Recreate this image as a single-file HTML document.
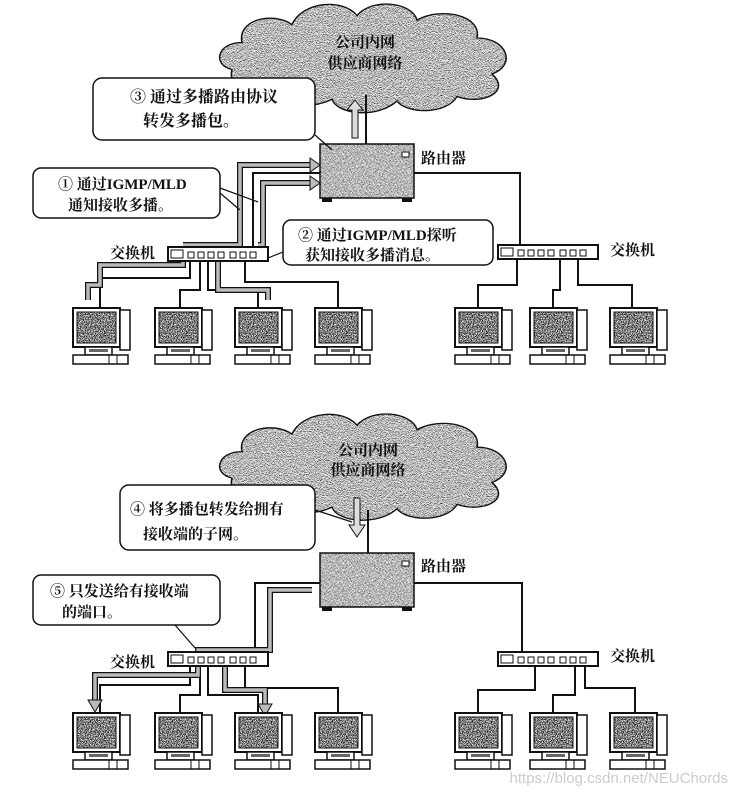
<!DOCTYPE html>
<html><head><meta charset="utf-8"><style>
body{margin:0;background:#fff;}
svg{display:block;}
text{font-family:"Liberation Serif","Noto Serif CJK SC","Noto Sans CJK SC",serif;font-weight:bold;fill:#111;}
</style></head><body>
<svg width="731" height="796" viewBox="0 0 731 796" xmlns="http://www.w3.org/2000/svg">
<defs>
<filter id="nz" x="0" y="0" width="100%" height="100%" color-interpolation-filters="sRGB">
<feTurbulence type="fractalNoise" baseFrequency="1.2" numOctaves="2" seed="3" result="t"/>
<feColorMatrix in="t" type="matrix" values="3 0 0 0 -1.0  3 0 0 0 -1.0  3 0 0 0 -1.0  0 0 0 0 1" result="g"/>
<feComposite in="g" in2="SourceGraphic" operator="in"/>
</filter>
<filter id="nz2" x="0" y="0" width="100%" height="100%" color-interpolation-filters="sRGB">
<feTurbulence type="fractalNoise" baseFrequency="1.0" numOctaves="2" seed="7" result="t"/>
<feColorMatrix in="t" type="matrix" values="2.6 0 0 0 -0.55  2.6 0 0 0 -0.55  2.6 0 0 0 -0.55  0 0 0 0 1" result="g"/>
<feComposite in="g" in2="SourceGraphic" operator="in"/>
</filter>
<g id="pc">
<rect x="0" y="0" width="47" height="39" fill="#fff" stroke="#111" stroke-width="2"/>
<rect x="4" y="4" width="39" height="31" fill="#888" filter="url(#nz)"/>
<rect x="4" y="4" width="39" height="31" fill="none" stroke="#111" stroke-width="1"/>
<rect x="47" y="2" width="10" height="40" fill="#fff" stroke="#111" stroke-width="1.5"/>
<rect x="12" y="39" width="27" height="8" fill="#fff" stroke="#111" stroke-width="1.5"/>
<rect x="16" y="41" width="19" height="3" fill="#666"/>
<rect x="0" y="47" width="55" height="9" fill="#fff" stroke="#111" stroke-width="1.5"/>
<line x1="36" y1="47" x2="36" y2="56" stroke="#111"/><line x1="44" y1="47" x2="44" y2="56" stroke="#111"/>
</g>
<g id="sw">
<rect x="0" y="0" width="100" height="14" fill="#fff" stroke="#111" stroke-width="2"/>
<rect x="3" y="3" width="12" height="8" fill="#fff" stroke="#111"/>
<g fill="#fff" stroke="#111"><rect x="20" y="5" width="6" height="6"/><rect x="30" y="5" width="6" height="6"/><rect x="40" y="5" width="6" height="6"/><rect x="50" y="5" width="6" height="6"/><rect x="62" y="5" width="6" height="6"/><rect x="72" y="5" width="6" height="6"/><rect x="82" y="5" width="6" height="6"/></g>
</g>
<g id="rt">
<rect x="0" y="0" width="94" height="54" fill="#999" filter="url(#nz2)"/>
<rect x="0" y="0" width="94" height="54" fill="none" stroke="#111" stroke-width="1.5"/>
<rect x="82" y="8" width="7" height="5" fill="#fff" stroke="#111"/>
<rect x="2" y="54" width="10" height="4" fill="#111"/><rect x="82" y="54" width="10" height="4" fill="#111"/>
</g>
<path id="cp" d="M0,75 C-20,70 -15,45 10,45 C5,20 40,10 60,25 C70,0 110,-5 125,15 C140,-5 180,0 185,20 C210,5 250,15 245,40 C275,40 285,70 260,80 C280,100 250,115 225,105 C215,125 175,125 165,110 C145,130 105,125 100,108 C80,120 45,115 45,100 C20,105 -5,95 0,75 Z"/>
<g id="cl">
<use href="#cp" fill="#999" filter="url(#nz2)"/>
<use href="#cp" fill="none" stroke="#111" stroke-width="1.5"/>
</g>
</defs>

<!-- ===== TOP ===== -->
<g transform="translate(232,2) scale(1,0.9)"><use href="#cl"/></g>
<text x="365" y="47" font-size="15" text-anchor="middle">公司内网</text>
<text x="365" y="68" font-size="15" text-anchor="middle">供应商网络</text>
<line x1="366" y1="95" x2="366" y2="145" stroke="#111" stroke-width="2"/>
<path d="M352,138 V110 H347 L355,100 L363,110 H358 V138 Z" fill="#ddd" stroke="#111"/>
<g fill="none" stroke="#111" stroke-width="2">
<path d="M413,173 H520 V246"/>
<path d="M320,173 H253 V248"/>
<path d="M190,258 V278 H100 V308"/>
<path d="M200,258 V290 H180 V308"/>
<path d="M208,258 V290 H258 V308"/>
<path d="M245,258 V282 H338 V308"/>
<path d="M517,258 V285 H478 V308"/>
<path d="M560,258 V290 H553 V308"/>
<path d="M578,258 V285 H632 V308"/>
</g>
<g fill="none" stroke="#111" stroke-width="6"><path d="M183,245 H240 V165 H312"/><path d="M258,245 H263 V183 H312"/><path d="M183,248 V265 H100 V285 H88 V300"/><path d="M218,258 V290 H268 V300"/></g>
<g fill="none" stroke="#bbb" stroke-width="3.5"><path d="M183,245 H240 V165 H312"/><path d="M258,245 H263 V183 H312"/><path d="M183,248 V265 H100 V285 H88 V300"/><path d="M218,258 V290 H268 V300"/></g>
<path d="M310,158 L320,165 L310,172 Z M310,176 L320,183 L310,190 Z" fill="#bbb" stroke="#111"/>
<use href="#rt" x="320" y="144"/>
<text x="421" y="163" font-size="15">路由器</text>
<use href="#sw" x="168" y="247"/>
<use href="#sw" x="498" y="245"/>
<text x="110" y="258" font-size="15">交换机</text>
<text x="610" y="255" font-size="15">交换机</text>
<rect x="93" y="78" width="222" height="62" rx="9" fill="#fff" stroke="#111" stroke-width="1.5"/>
<text x="130" y="102" font-size="16">③ 通过多播路由协议</text>
<text x="143" y="126" font-size="16">转发多播包。</text>
<line x1="315" y1="135" x2="332" y2="150" stroke="#111" stroke-width="1.2"/>
<rect x="33" y="168" width="187" height="50" rx="8" fill="#fff" stroke="#111" stroke-width="1.5"/>
<text x="58" y="189" font-size="15">① 通过IGMP/MLD</text>
<text x="68" y="210" font-size="15">通知接收多播。</text>
<path d="M220,188 L258,202 M220,193 L240,210" stroke="#111" stroke-width="1.2" fill="none"/>
<rect x="283" y="220" width="210" height="45" rx="8" fill="#fff" stroke="#111" stroke-width="1.5"/>
<text x="298" y="240" font-size="15">② 通过IGMP/MLD探听</text>
<text x="305" y="260" font-size="15">获知接收多播消息。</text>
<line x1="283" y1="252" x2="268" y2="258" stroke="#111" stroke-width="1.2"/>
<use href="#pc" x="73" y="308"/><use href="#pc" x="155" y="308"/><use href="#pc" x="235" y="308"/><use href="#pc" x="315" y="308"/>
<use href="#pc" x="455" y="308"/><use href="#pc" x="530" y="308"/><use href="#pc" x="610" y="308"/>

<!-- ===== BOTTOM ===== -->
<g transform="translate(232,412) scale(1,0.88)"><use href="#cl"/></g>
<text x="368" y="455" font-size="15" text-anchor="middle">公司内网</text>
<text x="368" y="475" font-size="15" text-anchor="middle">供应商网络</text>
<line x1="368" y1="510" x2="368" y2="555" stroke="#111" stroke-width="2"/>
<path d="M354,498 V525 H349 L357,537 L365,525 H360 V498 Z" fill="#ddd" stroke="#111"/>
<g fill="none" stroke="#111" stroke-width="2">
<path d="M413,583 H522 V652"/>
<path d="M320,583 H255 V650"/>
<path d="M190,662 V685 H100 V713"/>
<path d="M200,662 V695 H180 V713"/>
<path d="M208,662 V695 H258 V713"/>
<path d="M245,662 V688 H338 V713"/>
<path d="M535,662 V690 H478 V713"/>
<path d="M575,662 V695 H553 V713"/>
<path d="M585,662 V688 H635 V713"/>
</g>
<g fill="none" stroke="#111" stroke-width="6"><path d="M312,590 H270 V650 H198 V675 H95 V700"/><path d="M225,655 V690 H265 V705"/></g>
<g fill="none" stroke="#bbb" stroke-width="3.5"><path d="M312,590 H270 V650 H198 V675 H95 V700"/><path d="M225,655 V690 H265 V705"/></g>
<path d="M88,700 L95,712 L102,700 Z M258,704 L265,716 L272,704 Z" fill="#bbb" stroke="#111"/>
<use href="#rt" x="320" y="553"/>
<text x="421" y="571" font-size="15">路由器</text>
<use href="#sw" x="168" y="652"/>
<use href="#sw" x="498" y="652"/>
<text x="110" y="667" font-size="15">交换机</text>
<text x="610" y="661" font-size="15">交换机</text>
<rect x="120" y="485" width="195" height="65" rx="9" fill="#fff" stroke="#111" stroke-width="1.5"/>
<text x="130" y="514" font-size="15">④ 将多播包转发给拥有</text>
<text x="143" y="539" font-size="15">接收端的子网。</text>
<line x1="315" y1="510" x2="352" y2="522" stroke="#111" stroke-width="1.2"/>
<rect x="33" y="575" width="187" height="50" rx="8" fill="#fff" stroke="#111" stroke-width="1.5"/>
<text x="50" y="596" font-size="15">⑤ 只发送给有接收端</text>
<text x="62" y="617" font-size="15">的端口。</text>
<line x1="175" y1="625" x2="195" y2="648" stroke="#111" stroke-width="1.2"/>
<use href="#pc" x="73" y="713"/><use href="#pc" x="155" y="713"/><use href="#pc" x="235" y="713"/><use href="#pc" x="315" y="713"/>
<use href="#pc" x="455" y="713"/><use href="#pc" x="530" y="713"/><use href="#pc" x="610" y="713"/>
<text x="728" y="783" font-size="15" text-anchor="end" style="font-family:'Liberation Sans',sans-serif;font-weight:normal;fill:#ccc">https://blog.csdn.net/NEUChords</text>
</svg>
</body></html>
